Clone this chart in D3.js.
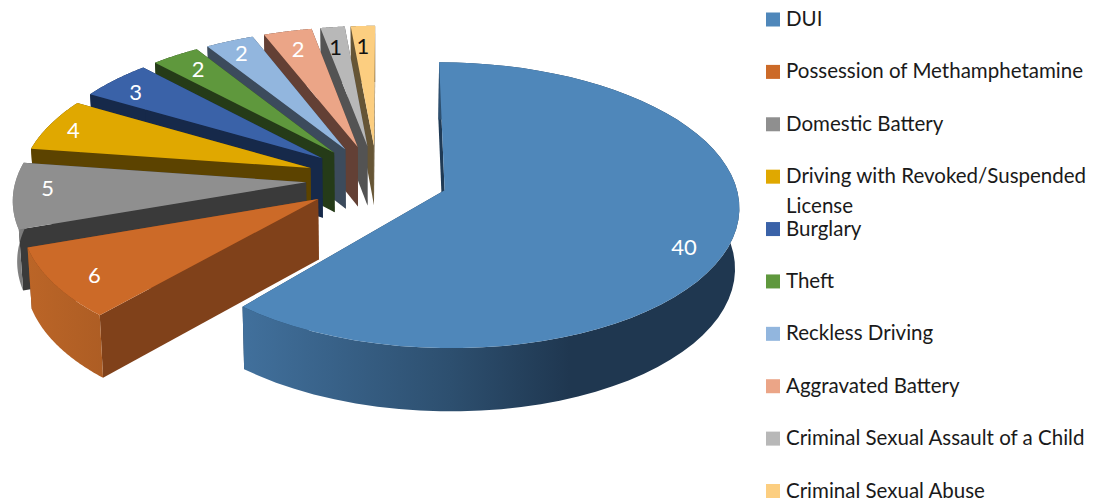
<!DOCTYPE html>
<html><head><meta charset="utf-8">
<script src="https://cdn.jsdelivr.net/npm/d3@7"></script>
<style>html,body{margin:0;padding:0;background:#fff}svg{display:block}
text{font-family:Lato,"Open Sans",sans-serif}</style></head>
<body><svg id="c" width="1115" height="502"></svg>
<script>
const categories = ["DUI","Possession of Methamphetamine","Domestic Battery","Driving with Revoked/Suspended License","Burglary","Theft","Reckless Driving","Aggravated Battery","Criminal Sexual Assault of a Child","Criminal Sexual Abuse"];
const values = [40,6,5,4,3,2,2,2,1,1];
const topColors = ["#4f87ba","#cc6a28","#8f8f8f","#e0a800","#3a62a8","#5f983d","#92b6de","#eba587","#b8b8b8","#fcce80"];
const wallColors = ["#1f3a55","#80411a","#3a3a3a","#5c4300","#16294a","#253b18","#3c4b5c","#634035","#535353","#665535"];
const labelColors = ["#fff","#fff","#fff","#fff","#fff","#fff","#fff","#fff","#111","#111"];

const svg = d3.select("#c");
const P = {x:377,y:179,a:290,b:139,k:0.104,s:-1,e:0.245,h:60};
const lensDeg = [2.5,3.5,3.5,3.5,3.5,3.5,3.5,3.5,3.5,3.5];
const labelNudgeX = [-19,13,5,-2,1,8,1,4,0,-1];
const labelNudgeY = [14,1,-6,1,5,4,2,7,9,9];
function warp(t,i){ // slight lens correction of the front-left rim
  const deg=t*180/Math.PI, d=(deg-218)/32;
  return t + (Math.abs(d)<1 ? (1-d*d)*(1-d*d)*lensDeg[i]*Math.PI/180 : 0);
}
function proj(i,mid,r,t,z){
  const th=warp(t,i);
  const u=P.e*Math.sin(mid)+r*Math.sin(th), v=-P.e*Math.cos(mid)-r*Math.cos(th);
  const w=1-P.k*v;
  return [P.x+(P.a*u/w)*(1-0.012*z)+P.s*v/w, P.y+P.b*v/w+z*P.h*(1+0.05*v)];
}
const arcs = d3.pie().sort(null).startAngle(0).endAngle(2*Math.PI)(values);
const line = d3.line();
const defs = svg.append("defs");
function grad(id,stops){
  const g=defs.append("linearGradient").attr("id",id).attr("gradientUnits","userSpaceOnUse")
    .attr("x1",stops[0][0]).attr("x2",stops[stops.length-1][0]).attr("y1",0).attr("y2",0);
  const x0=stops[0][0],x1=stops[stops.length-1][0];
  stops.forEach(s=>g.append("stop").attr("offset",(s[0]-x0)/(x1-x0)).attr("stop-color",s[1]));
}
grad("g0",[[243,"#41709c"],[450,"#2d4f6f"],[570,"#1f3750"],[742,"#1f3750"]]);
grad("g1",[[28,"#bb6527"],[105,"#ad5d24"]]);
grad("g2",[[12,"#8a8a8a"],[30,"#6f6f6f"]]);
const rimFill=i=>i===0?"url(#g0)":i===1?"url(#g1)":i===2?"url(#g2)":wallColors[i];

const order = d3.range(values.length).reverse();
order.forEach(i=>{
  const a=arcs[i], mid=(a.startAngle+a.endAngle)/2, g=svg.append("g");
  const wall=t=>[proj(i,mid,0,0,0),proj(i,mid,0,0,1),proj(i,mid,1,t,1),proj(i,mid,1,t,0)];
  g.append("path").attr("d",line(wall(a.endAngle))+"Z").attr("fill",wallColors[i]);
  g.append("path").attr("d",line(wall(a.startAngle))+"Z").attr("fill",wallColors[i]);
  const ts=d3.range(0,61).map(j=>a.startAngle+(a.endAngle-a.startAngle)*j/60);
  const rim=ts.map(t=>proj(i,mid,1,t,0)).concat(ts.slice().reverse().map(t=>proj(i,mid,1,t,1)));
  g.append("path").attr("d",line(rim)+"Z").attr("fill",rimFill(i));
  const top=[proj(i,mid,0,0,0)].concat(ts.map(t=>proj(i,mid,1,t,0)));
  g.append("path").attr("d",line(top)+"Z").attr("fill",topColors[i]);
});
// data labels
arcs.forEach((a,i)=>{
  const mid=(a.startAngle+a.endAngle)/2;
  const p=proj(i,mid,0.9,mid,0);
  svg.append("text").attr("x",p[0]+labelNudgeX[i]).attr("y",p[1]+labelNudgeY[i]).attr("dy","0.36em")
    .attr("text-anchor","middle").attr("font-size",22).attr("fill",labelColors[i]).text(values[i]);
});
// legend
const ly=d3.scaleLinear().domain([0,9]).range([19.5,491]);
categories.forEach((c,i)=>{
  const y=ly(i);
  svg.append("rect").attr("x",766).attr("y",y-7).attr("width",14).attr("height",14).attr("fill",topColors[i]);
  const words=c==="Driving with Revoked/Suspended License"?["Driving with Revoked/Suspended","License"]:[c];
  words.forEach((w,j)=>svg.append("text").attr("x",786).attr("y",y+6.5+j*30)
    .attr("font-size",20.5).attr("fill","#1a1a1a").text(w));
});
</script></body></html>
